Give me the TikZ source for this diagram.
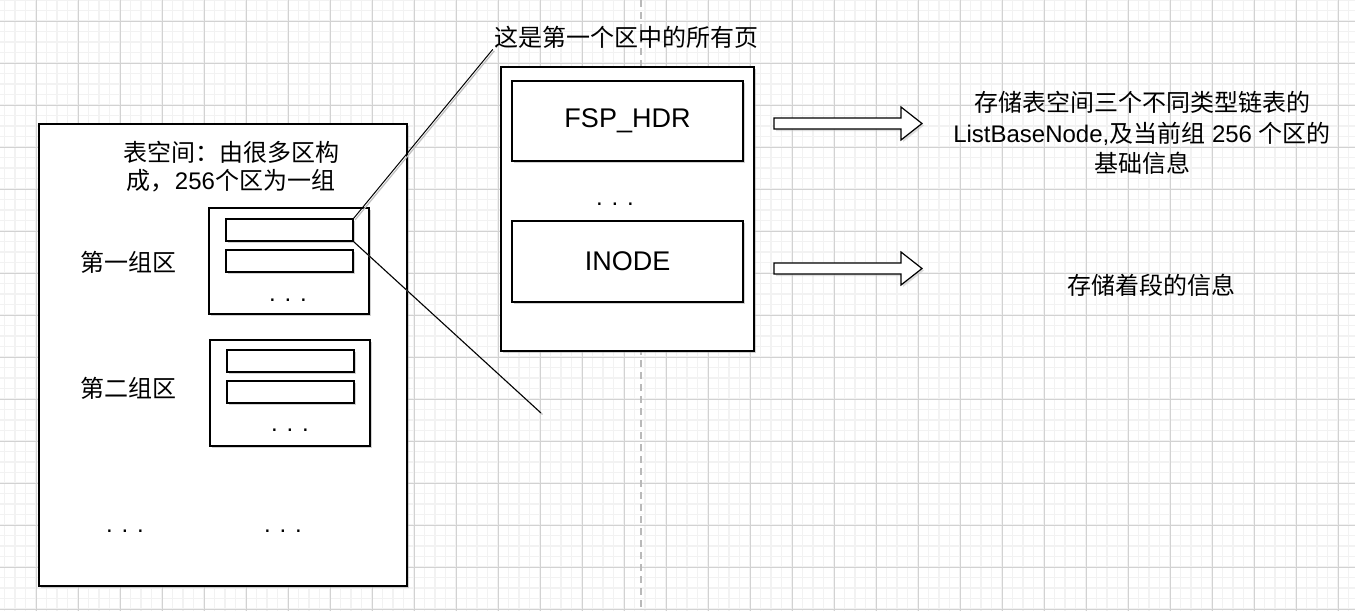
\documentclass[tikz,border=0pt]{standalone}
\usepackage{fontspec}
\setmainfont{Liberation Sans}
\newfontfamily\cjk{Noto Sans CJK SC}
\usetikzlibrary{shadows}

\tikzset{
  sketchbox/.style={rectangle, draw=black, line width=1.2pt, fill=white, inner sep=0pt,
                    drop shadow={shadow xshift=2pt, shadow yshift=-2pt, fill=black!35}},
  pagebar/.style={sketchbox, minimum width=127, minimum height=22},
  groupbox/.style={sketchbox, minimum width=160, minimum height=106},
  pagebox/.style={sketchbox, minimum width=231, minimum height=80, font=\fontsize{27}{30}\selectfont},
  txt/.style={inner sep=1pt, align=center, font=\fontsize{24}{30}\selectfont},
  dots/.style={inner sep=0pt, anchor=base, font=\fontsize{24}{30}\selectfont},
  callout/.style={draw=black, line width=1pt,
                  preaction={draw=black!25, line width=1.2pt, transform canvas={xshift=1.5pt, yshift=-1.5pt}}},
  blockarrow/.style={draw=black, line width=1.2pt, fill=white,
                     drop shadow={shadow xshift=2pt, shadow yshift=-2pt, fill=black!25}}
}

\begin{document}
\begin{tikzpicture}[x=1pt, y=-1pt]

\useasboundingbox (0,0) rectangle (1355,611);
\fill [white] (0,0) rectangle (1355,611);

% background grid
\begin{scope}[shift={(36,21)}]
  \draw [gray!10, line width=1.5pt, step=10.5pt] (-36,-21) grid (1319,590);
  \draw [gray!35, line width=0.8pt, step=42pt] (-36,-21) grid (1319,590);
\end{scope}
\draw [gray!55, line width=1.3pt, dash pattern=on 7pt off 5pt] (641,0) -- (641,611);

% table space
\node [sketchbox, minimum width=368, minimum height=462] (space) at (223,355) {};
\node [txt, font=\fontsize{24}{28}\selectfont] (spacetitle) at (231,167)
      {{\cjk 表空间：由很多区构}\\{\cjk 成，}256{\cjk 个区为一组}};

\node [groupbox] (grp1) at (289,261) {};
\node [pagebar] (g1bar1) at (289.5,230) {};
\node [pagebar] (g1bar2) at (289.5,261) {};
\node [dots] (g1dots) at (288,301) {. . .};
\node [txt] (grp1label) at (128,262) {{\cjk 第一组区}};

\node [groupbox] (grp2) at (290,393) {};
\node [pagebar] (g2bar1) at (290.5,361) {};
\node [pagebar] (g2bar2) at (290.5,392) {};
\node [dots] (g2dots) at (290,431) {. . .};
\node [txt] (grp2label) at (128,388) {{\cjk 第二组区}};

\node [dots] (moredots1) at (125,532) {. . .};
\node [dots] (moredots2) at (283,532) {. . .};

% pages of the first extent
\node [sketchbox, minimum width=253, minimum height=284] (extent) at (627.5,209) {};
\node [pagebox] (fsp) at (627.5,121) {FSP\_HDR};
\node [dots] (extdots) at (615,205) {. . .};
\node [pagebox, minimum height=81] (inode) at (627.5,261.5) {INODE};

\node [txt] (pagelabel) at (626,37) {{\cjk 这是第一个区中的所有页}};
\coordinate (tailend) at (541,413);
\draw [callout] (g1bar1.north east) to (pagelabel.south west);
\draw [callout] (g1bar1.south east) to (tailend);

% descriptions
\foreach \ay in {123.5,268.5}
  \draw [blockarrow] (774,\ay-5.5) -- (901,\ay-5.5) -- (901,\ay-16.5) -- (922,\ay)
        -- (901,\ay+16.5) -- (901,\ay+5.5) -- (774,\ay+5.5) -- cycle;

\node [txt, font=\fontsize{24}{30.5}\selectfont] (fspinfo) at (1142,133)
      {{\cjk 存储表空间三个不同类型链表的}\\ListBaseNode,{\cjk 及当前组} 256 {\cjk 个区的}\\{\cjk 基础信息}};
\node [txt] (inodeinfo) at (1151,285) {{\cjk 存储着段的信息}};

\end{tikzpicture}
\end{document}
